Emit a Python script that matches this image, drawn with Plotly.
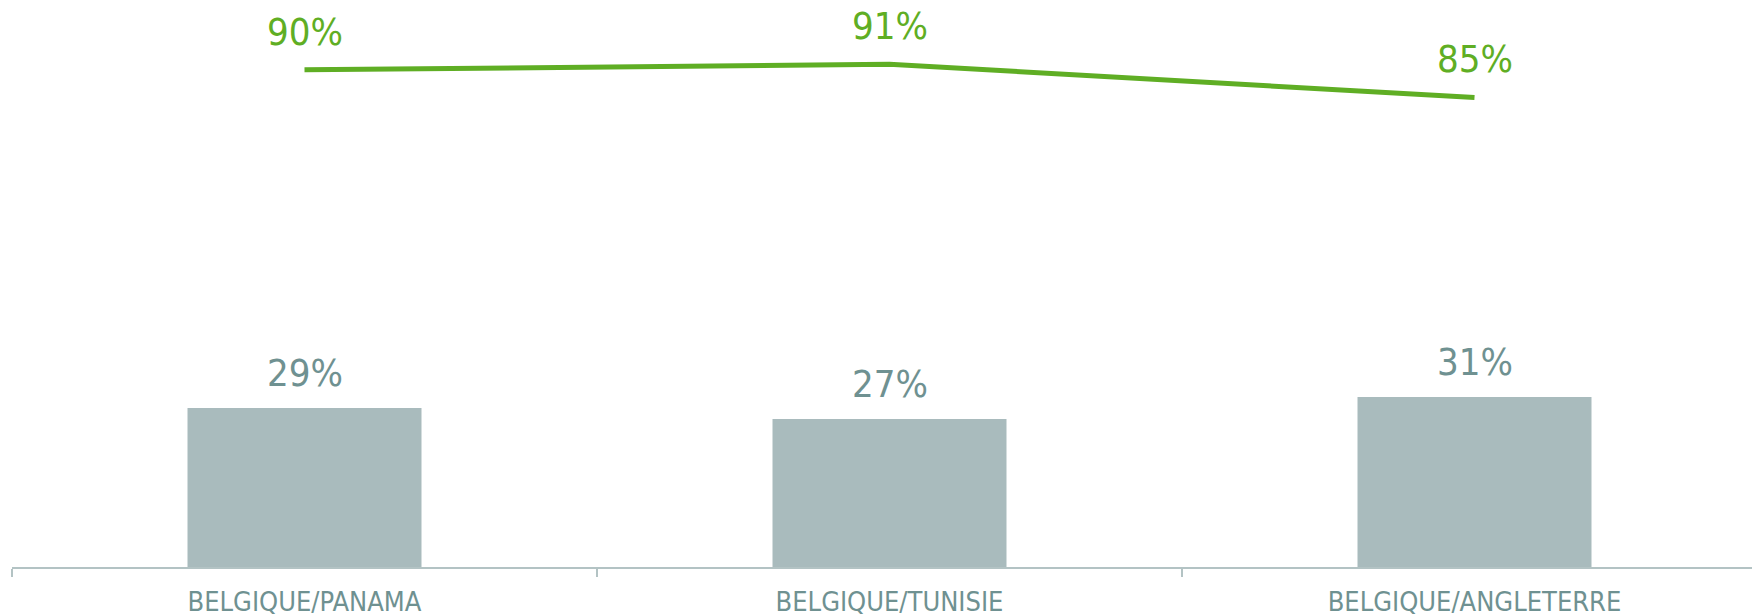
import plotly.graph_objects as go

categories = ["BELGIQUE/PANAMA", "BELGIQUE/TUNISIE", "BELGIQUE/ANGLETERRE"]
bar_values = [0.29, 0.27, 0.31]
line_values = [0.90, 0.91, 0.85]

GREEN = "#5fae24"
BAR = "#a9bbbd"
TEXT_GREY = "#6f9191"
FONT = "DejaVu Sans Condensed, Liberation Sans Narrow, DejaVu Sans, sans-serif"

fig = go.Figure()
fig.add_trace(go.Bar(x=categories, y=bar_values, width=0.4,
                     marker=dict(color=BAR, line=dict(width=0)),
                     yaxis="y", hoverinfo="skip"))
fig.add_trace(go.Scatter(x=categories, y=line_values, mode="lines",
                         line=dict(color=GREEN, width=5, shape="linear"),
                         yaxis="y2", hoverinfo="skip"))

annotations = []
for c, v in zip(categories, bar_values):
    annotations.append(dict(x=c, y=v, xref="x", yref="y", text=f"{round(v*100)}%",
                            showarrow=False, yanchor="middle", yshift=35,
                            font=dict(family=FONT, size=38, color=TEXT_GREY)))
for c, v in zip(categories, line_values):
    annotations.append(dict(x=c, y=v, xref="x", yref="y2", text=f"{round(v*100)}%",
                            showarrow=False, yanchor="middle", yshift=38,
                            font=dict(family=FONT, size=38, color=GREEN)))

fig.update_layout(
    width=1760, height=616,
    margin=dict(l=4, r=1, t=0, b=57),
    paper_bgcolor="white", plot_bgcolor="white",
    showlegend=False,
    font=dict(family=FONT),
    annotations=annotations,
    xaxis=dict(type="category", range=[-0.5, 2.5],
               showgrid=False, zeroline=False,
               showline=True, linecolor="#b3c3c4", linewidth=2,
               ticks="outside", tickson="boundaries", ticklen=8, tickwidth=1.5,
               tickcolor="#b3c3c4", ticklabelstandoff=10,
               tickfont=dict(family=FONT, size=27, color=TEXT_GREY)),
    yaxis=dict(range=[0, 1.02], visible=False, showgrid=False, zeroline=False),
    yaxis2=dict(range=[0, 1.012], visible=False, showgrid=False, zeroline=False,
                overlaying="y", side="right"),
)

fig.write_html("out.html")
